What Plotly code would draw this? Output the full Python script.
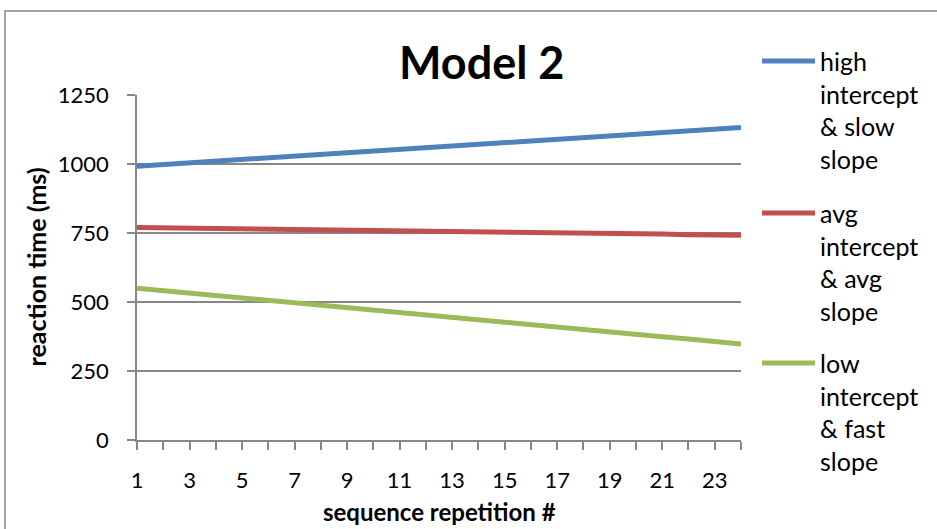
import plotly.graph_objects as go

repetitions = list(range(1, 25))
tick_labels = [str(r) if r % 2 == 1 else "" for r in repetitions]

high_slow = [992, 998, 1004, 1010, 1016, 1022, 1029, 1035, 1041, 1047, 1053, 1059,
             1065, 1071, 1077, 1083, 1089, 1095, 1102, 1108, 1114, 1120, 1126, 1132]
avg_avg = [770, 769, 768, 766, 765, 764, 763, 761, 760, 759, 758, 757,
           755, 754, 753, 752, 750, 749, 748, 747, 746, 744, 743, 742]
low_fast = [550, 541, 532, 524, 515, 506, 497, 489, 480, 471, 462, 453,
            445, 436, 427, 418, 410, 401, 392, 383, 374, 366, 357, 348]

series_names = [["high", "intercept", "& slow", "slope"],
                ["avg", "intercept", "& avg", "slope"],
                ["low", "intercept", "& fast", "slope"]]
series_values = [high_slow, avg_avg, low_fast]
colors = ["#4F81BD", "#C0504D", "#9BBB59"]

FONT = "Lato"
GRID = "#878787"

fig = go.Figure()
for name, vals, col in zip(series_names, series_values, colors):
    fig.add_trace(go.Scatter(x=repetitions, y=vals, mode="lines", name=" ".join(name),
                             line=dict(color=col, width=5), showlegend=False))

W, H = 937, 529
L, R, T, B = 137, 196, 95, 89
pw, ph = W - L - R, H - T - B

def px_x(px):
    return (px - L) / pw

def px_y(py):
    return (H - B - py) / ph

annotations = []
shapes = []
# manual legend
legend_line_y = [61, 213, 363]
for i, (name, col) in enumerate(zip(series_names, colors)):
    y0 = legend_line_y[i]
    shapes.append(dict(type="line", xref="paper", yref="paper",
                       x0=px_x(762), x1=px_x(815), y0=px_y(y0), y1=px_y(y0),
                       line=dict(color=col, width=5)))
    for j, txt in enumerate(name):
        annotations.append(dict(text=txt, xref="paper", yref="paper",
                                x=px_x(818), y=px_y(y0 + j * 32.5),
                                xanchor="left", yanchor="middle", showarrow=False,
                                font=dict(family=FONT, size=25, color="black")))

# chart border
shapes.append(dict(type="rect", xref="paper", yref="paper",
                   x0=px_x(5), x1=px_x(945), y0=px_y(540), y1=px_y(11),
                   line=dict(color=GRID, width=1.5), layer="below"))

annotations.append(dict(text="<b>Model 2</b>", xref="paper", yref="paper",
                        x=px_x(481), y=px_y(62), xanchor="center", yanchor="middle",
                        showarrow=False, font=dict(family=FONT, size=45, color="black")))
annotations.append(dict(text="<b>reaction time (ms)</b>", xref="paper", yref="paper",
                        x=px_x(35), y=0.5, xanchor="center", yanchor="middle",
                        textangle=-90, showarrow=False,
                        font=dict(family=FONT, size=25, color="black")))
annotations.append(dict(text="<b>sequence repetition #</b>", xref="paper", yref="paper",
                        x=px_x(439), y=px_y(528), xanchor="center", yanchor="bottom",
                        showarrow=False, font=dict(family=FONT, size=24, color="black")))

fig.update_layout(
    width=W, height=H,
    margin=dict(l=L, r=R, t=T, b=B, pad=0),
    paper_bgcolor="white", plot_bgcolor="white",
    font=dict(family=FONT, size=22, color="black"),
    annotations=annotations, shapes=shapes,
    xaxis=dict(range=[1, 24], tickmode="array", tickvals=repetitions, ticktext=tick_labels,
               showgrid=False, zeroline=False, showline=True, linecolor=GRID, linewidth=1.5,
               ticks="outside", ticklen=8, tickcolor=GRID, tickwidth=1.5,
               ticklabelstandoff=12, tickfont=dict(family=FONT, size=22)),
    yaxis=dict(range=[0, 1250], tickvals=[0, 250, 500, 750, 1000, 1250],
               showgrid=True, gridcolor=GRID, gridwidth=1.5, zeroline=False,
               showline=True, linecolor=GRID, linewidth=1.5,
               ticks="outside", ticklen=8, tickcolor=GRID, tickwidth=1.5,
               ticklabelstandoff=14, tickfont=dict(family=FONT, size=22)),
)

fig.write_html("out.html")
